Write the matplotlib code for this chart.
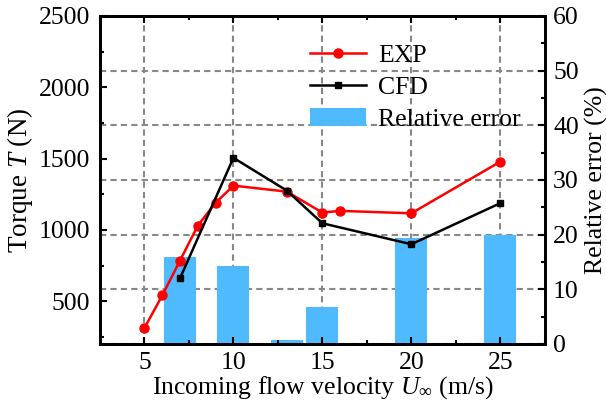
import matplotlib
matplotlib.use("Agg")
import matplotlib.pyplot as plt
from matplotlib.ticker import MultipleLocator

plt.rcParams['font.family'] = ['Liberation Serif', 'DejaVu Serif']
plt.rcParams['mathtext.fontset'] = 'custom'
plt.rcParams['mathtext.rm'] = 'Liberation Serif'
plt.rcParams['mathtext.it'] = 'Liberation Serif:italic'
plt.rcParams['font.size'] = 18.5

exp_x = [5, 6, 7, 8, 9, 10, 13, 15, 16, 20, 25]
exp_y = [312, 540, 785, 1030, 1190, 1310, 1268, 1121, 1133, 1116, 1478]
cfd_x = [7, 10, 13, 15, 20, 25]
cfd_y = [661, 1505, 1275, 1046, 899, 1187]
err_x = [7, 10, 13, 15, 20, 25]
err_y = [15.9, 14.3, 0.7, 6.8, 19.3, 19.9]

grid_kw = dict(color='#888888', linestyle=(0, (3, 2)), linewidth=1.5)

fig = plt.figure(figsize=(6.06, 4.08), dpi=100)
ax = fig.add_axes([0.165, 0.157, 0.734, 0.804])
ax2 = ax.twinx()

ax.set_xlim(2.5, 27.5)
ax.set_ylim(200, 2500)
ax.xaxis.set_major_locator(MultipleLocator(5))
ax.xaxis.set_minor_locator(MultipleLocator(2.5))
ax.yaxis.set_major_locator(MultipleLocator(500))
ax.yaxis.set_minor_locator(MultipleLocator(250))

ax2.set_ylim(0, 60)
ax2.yaxis.set_major_locator(MultipleLocator(10))
ax2.yaxis.set_minor_locator(MultipleLocator(5))
ax2.set_axisbelow(True)
ax2.grid(True, which='major', axis='y', **grid_kw)
for xv in ax.get_xticks():
    if 2.5 < xv < 27.5:
        ax2.axvline(xv, zorder=0.5, **grid_kw)

ax2.bar(err_x, err_y, width=1.8, color='#50BAFF', label='Relative error', zorder=2)
ax2.set_ylabel('Relative error (%)', fontsize=18.5, labelpad=4)

ax.set_zorder(ax2.get_zorder() + 1)
ax.patch.set_visible(False)
ax.plot(exp_x, exp_y, color='red', marker='o', markersize=6.5, linewidth=1.8, label='EXP')
ax.plot(cfd_x, cfd_y, color='black', marker='s', markersize=4.5, linewidth=1.8, label='CFD')
ax.set_ylabel(r'Torque $T$ (N)', fontsize=19.5, labelpad=3)
ax.set_xlabel(r'Incoming flow velocity $U_{\infty}$ (m/s)', fontsize=18.5, labelpad=0)

for a in (ax, ax2):
    for s in a.spines.values():
        s.set_linewidth(2)
    a.tick_params(which='both', direction='in', width=1.5, top=True)
    a.tick_params(which='major', length=5, pad=6)
    a.tick_params(which='minor', length=3)
ax.tick_params(axis='y', pad=7)
ax.tick_params(which='both', right=False)
ax2.tick_params(which='both', left=False, right=True)

h1, l1 = ax.get_legend_handles_labels()
h2, l2 = ax2.get_legend_handles_labels()
ax.legend(h1 + h2, l1 + l2, loc='upper left', bbox_to_anchor=(0.42, 0.985), frameon=False,
          handlelength=2.2, handletextpad=0.45, labelspacing=0.35, fontsize=18.5)

fig.savefig('out.png', dpi=100)
